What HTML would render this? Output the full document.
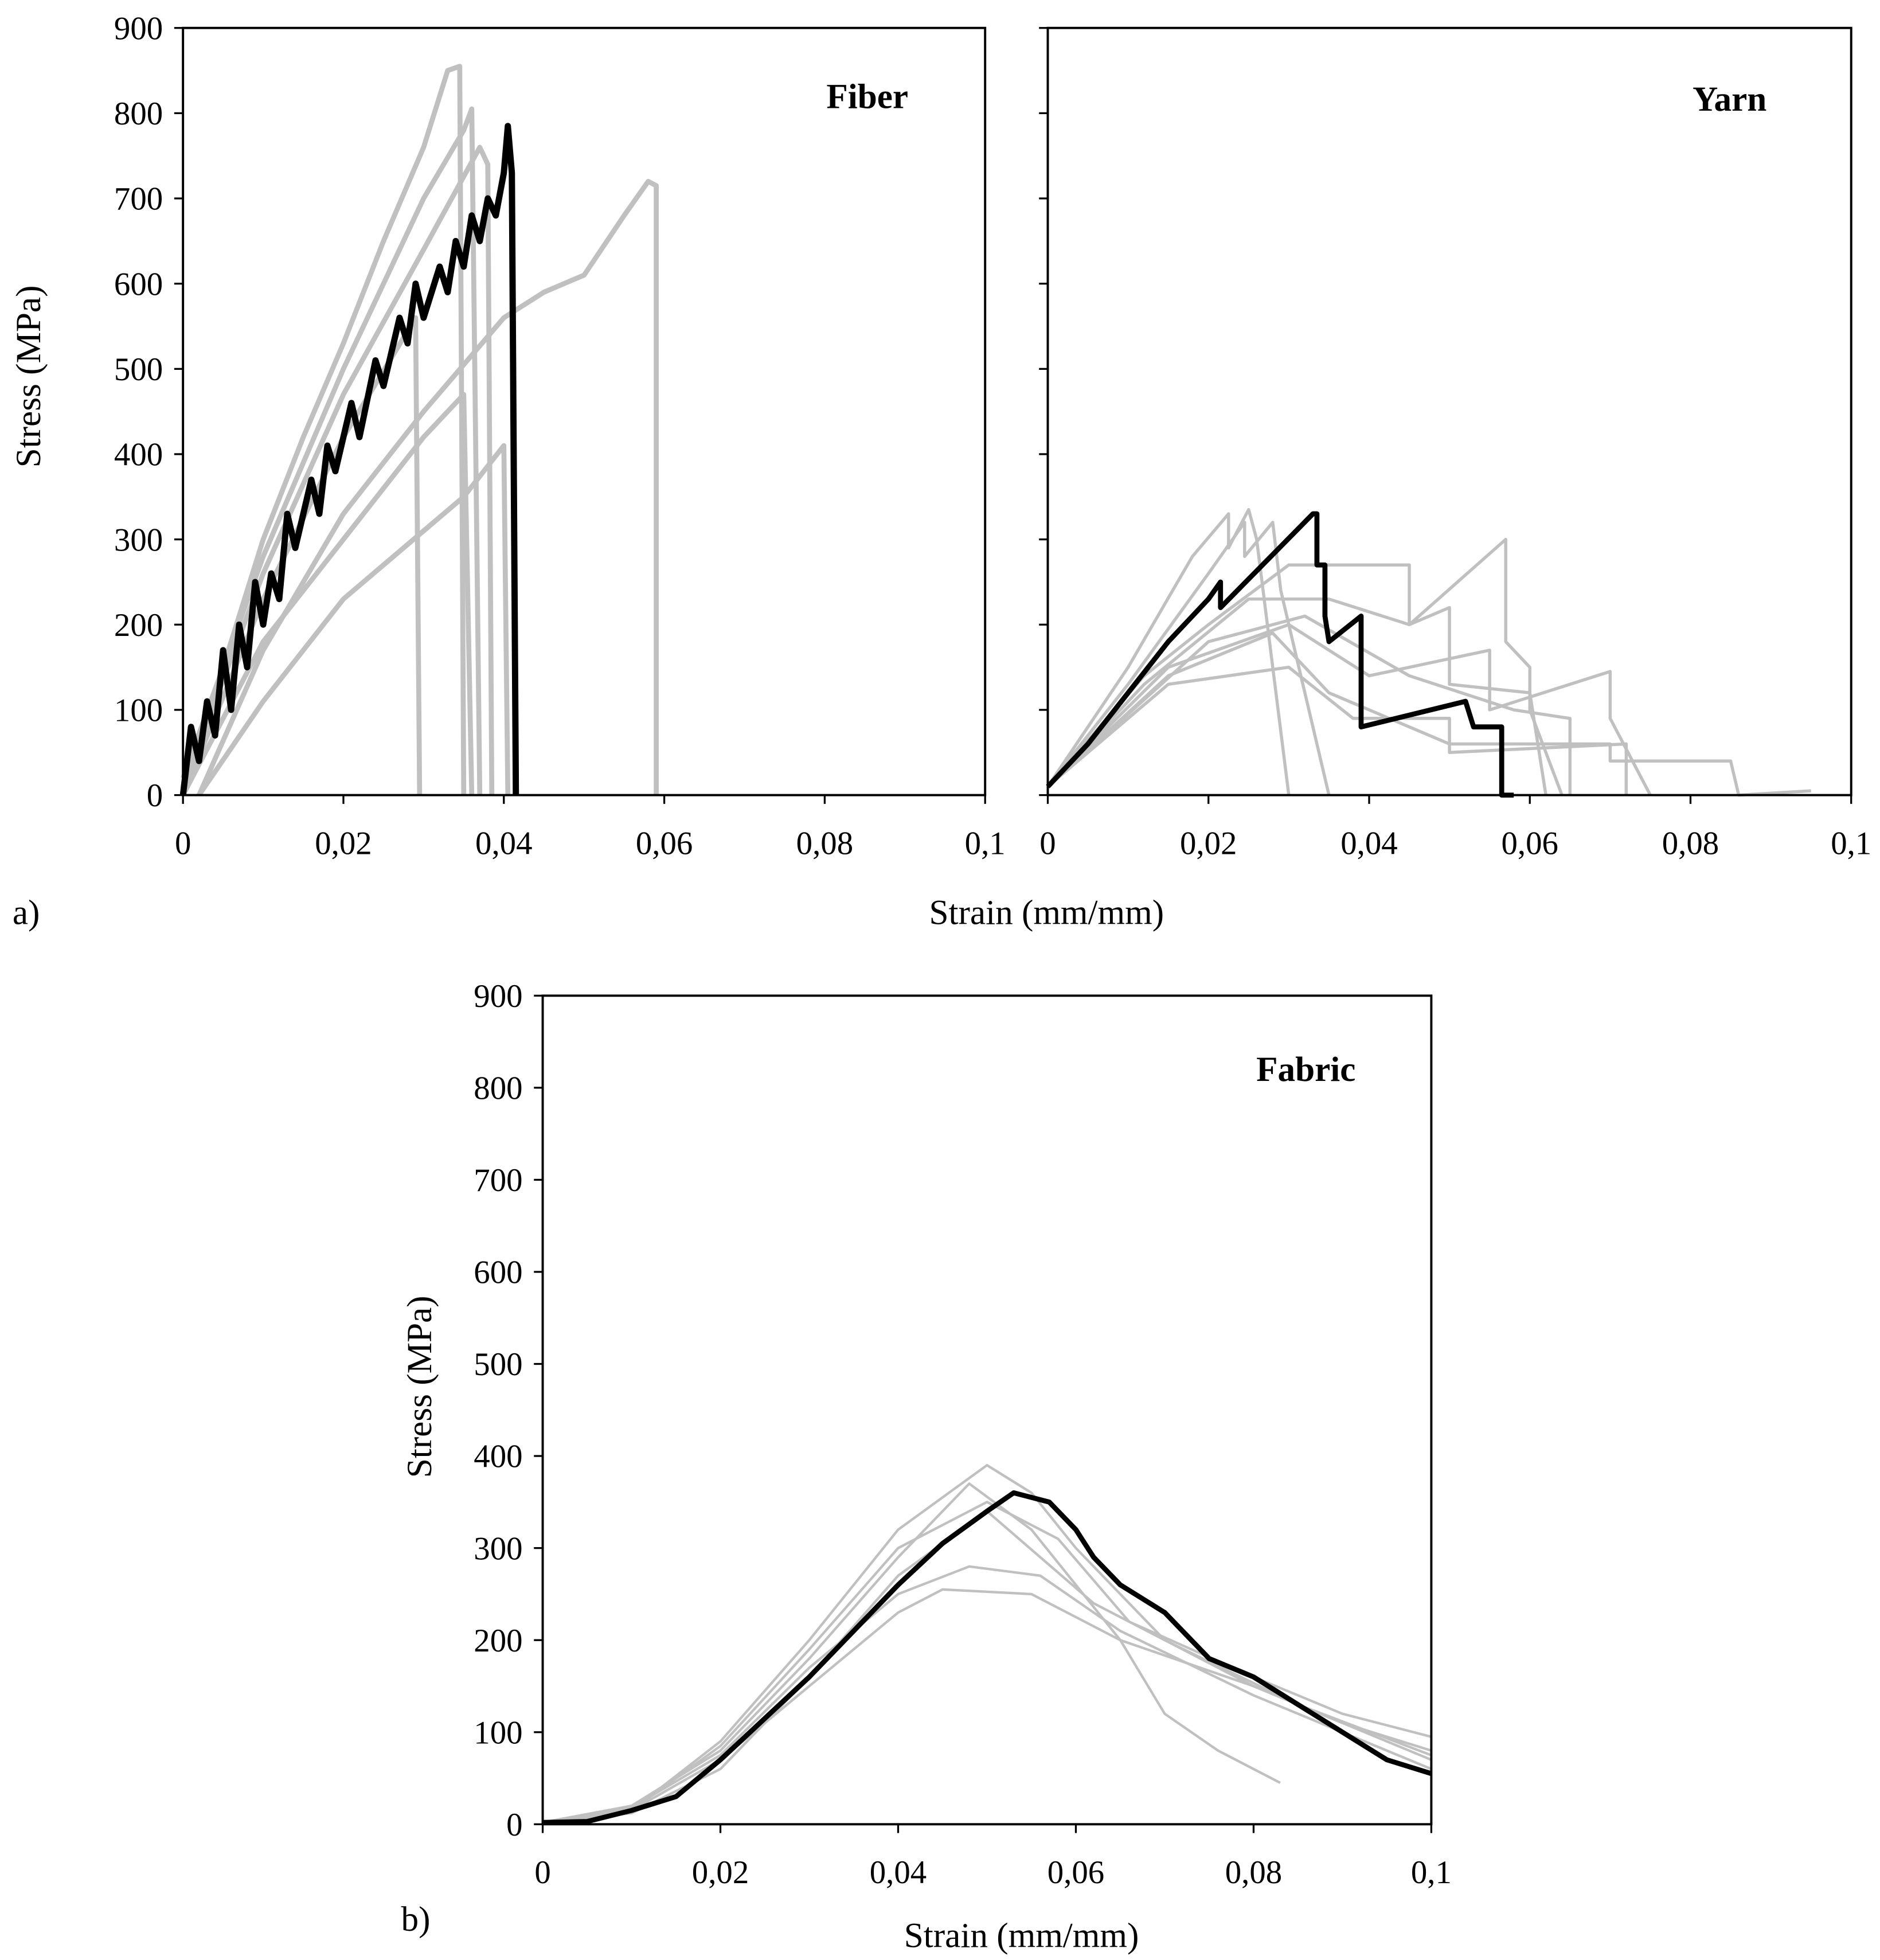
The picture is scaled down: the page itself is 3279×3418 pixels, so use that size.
<!DOCTYPE html>
<html><head><meta charset="utf-8"><style>
html,body{margin:0;padding:0;background:#fff;}
svg{display:block;font-family:"Liberation Serif",serif;}
</style></head><body>
<svg id="fig" width="3279" height="3418" viewBox="0 0 1500 1563" xmlns="http://www.w3.org/2000/svg">
<g id="root"></g>
</svg>
<script>
// ---- data ----
const fiberGray = [
 [[0,0],[0.004,120],[0.01,300],[0.015,420],[0.02,530],[0.025,650],[0.03,760],[0.033,850],[0.0345,855],[0.035,0]],
 [[0,20],[0.005,150],[0.01,280],[0.02,500],[0.025,600],[0.03,700],[0.035,780],[0.036,805],[0.037,0]],
 [[0,10],[0.01,260],[0.02,470],[0.03,640],[0.037,760],[0.038,740],[0.0385,0]],
 [[0.002,0],[0.01,170],[0.02,330],[0.03,450],[0.04,560],[0.045,590],[0.05,610],[0.055,680],[0.058,720],[0.059,715],[0.059,0]],
 [[0.002,0],[0.01,110],[0.02,230],[0.03,310],[0.035,350],[0.04,410],[0.0405,0]],
 [[0,0],[0.01,180],[0.02,300],[0.03,420],[0.035,470],[0.036,0]],
 [[0,0],[0.01,230],[0.02,420],[0.029,560],[0.0295,0]]
];
const fiberBlack = [[0,0],[0.001,80],[0.002,40],[0.003,110],[0.004,70],[0.005,170],[0.006,100],[0.007,200],[0.008,150],[0.009,250],[0.01,200],[0.011,260],[0.012,230],[0.013,330],[0.014,290],[0.016,370],[0.017,330],[0.018,410],[0.019,380],[0.021,460],[0.022,420],[0.024,510],[0.025,480],[0.027,560],[0.028,530],[0.029,600],[0.03,560],[0.032,620],[0.033,590],[0.034,650],[0.035,620],[0.036,680],[0.037,650],[0.038,700],[0.039,680],[0.04,730],[0.0405,785],[0.041,730],[0.0415,0]];
const yarnGray = [
 [[0,10],[0.01,150],[0.018,280],[0.0225,330],[0.0225,290],[0.025,335],[0.026,300],[0.03,0]],
 [[0,10],[0.01,130],[0.02,260],[0.0245,320],[0.0245,280],[0.028,320],[0.029,240],[0.035,0]],
 [[0,10],[0.012,140],[0.02,200],[0.03,270],[0.045,270],[0.045,200],[0.05,220],[0.05,130],[0.06,120],[0.062,0]],
 [[0,10],[0.012,130],[0.025,230],[0.035,230],[0.045,200],[0.057,300],[0.057,180],[0.06,150],[0.06,100],[0.064,0]],
 [[0,10],[0.015,150],[0.03,200],[0.04,140],[0.055,170],[0.055,100],[0.07,145],[0.07,90],[0.075,0]],
 [[0,10],[0.015,140],[0.028,190],[0.035,120],[0.05,60],[0.07,60],[0.07,40],[0.085,40],[0.086,0],[0.095,5]],
 [[0,10],[0.015,130],[0.03,150],[0.038,90],[0.05,90],[0.05,50],[0.072,60],[0.072,0]],
 [[0,10],[0.02,180],[0.032,210],[0.045,140],[0.058,100],[0.065,90],[0.065,0]]
];
const yarnBlack = [[0,10],[0.005,60],[0.01,120],[0.015,180],[0.02,230],[0.0215,250],[0.0215,220],[0.033,330],[0.0335,330],[0.0335,270],[0.0345,270],[0.0345,210],[0.035,180],[0.039,210],[0.039,80],[0.052,110],[0.053,80],[0.0565,80],[0.0565,0],[0.058,0]];
const fabricGray = [
 [[0,2],[0.01,15],[0.02,90],[0.03,200],[0.04,320],[0.05,390],[0.055,360],[0.06,300],[0.07,200],[0.08,150],[0.09,110],[0.1,70]],
 [[0,2],[0.01,20],[0.02,80],[0.03,180],[0.04,290],[0.048,370],[0.055,320],[0.065,200],[0.07,120],[0.076,80],[0.083,45]],
 [[0,2],[0.01,15],[0.02,70],[0.03,150],[0.04,230],[0.045,255],[0.055,250],[0.065,200],[0.08,150],[0.09,110],[0.1,80]],
 [[0,2],[0.01,18],[0.02,75],[0.03,170],[0.04,250],[0.048,280],[0.056,270],[0.065,210],[0.08,140],[0.09,100],[0.1,60]],
 [[0,2],[0.01,15],[0.02,85],[0.03,190],[0.04,300],[0.05,350],[0.058,310],[0.066,220],[0.08,160],[0.09,120],[0.1,95]],
 [[0,2],[0.01,12],[0.02,60],[0.03,160],[0.04,270],[0.05,340],[0.056,290],[0.062,240],[0.07,200],[0.085,130],[0.1,75]]
];
const fabricBlack = [[0,2],[0.005,3],[0.01,15],[0.015,30],[0.02,70],[0.025,115],[0.03,160],[0.035,210],[0.04,260],[0.045,305],[0.05,340],[0.053,360],[0.057,350],[0.06,320],[0.062,290],[0.065,260],[0.07,230],[0.075,180],[0.08,160],[0.085,130],[0.09,100],[0.095,70],[0.1,55]];
const yTicks = [0,100,200,300,400,500,600,700,800,900];
const xTicks = [0,0.02,0.04,0.06,0.08,0.1];
const xTickLabels = ["0","0,02","0,04","0,06","0,08","0,1"];

const NS="http://www.w3.org/2000/svg";
const root=document.getElementById('root');
function mk(tag,attrs,parent){const e=document.createElementNS(NS,tag);for(const k in attrs)e.setAttribute(k,attrs[k]);(parent||root).appendChild(e);return e;}
function txt(s,attrs,parent){const e=mk('text',attrs,parent);e.textContent=s;return e;}

function panel(name,L,R,T,B,gray,black,grayW,blackW,title,titleX,titleY,yLabels){
  const g=mk('g',{});
  
  
  const sx=v=>L+(v/0.1)*(R-L), sy=v=>B-(v/900)*(B-T);
  gray.forEach((s,i)=>{
    const p=mk('polyline',{points:s.map(d=>sx(d[0])+','+sy(d[1])).join(' '),fill:'none',stroke:'#c0c0c0','stroke-width':grayW,'stroke-linejoin':'round'},g);
    
    
  });
  const pb=mk('polyline',{points:black.map(d=>sx(d[0])+','+sy(d[1])).join(' '),fill:'none',stroke:'#000','stroke-width':blackW,'stroke-linejoin':'round'},g);
  
  
  const fr=mk('rect',{x:L,y:T,width:R-L,height:B-T,fill:'none',stroke:'#000','stroke-width':1.8},g);
  
  
  yTicks.forEach(v=>{
    mk('line',{x1:L-7,x2:L,y1:sy(v),y2:sy(v),stroke:'#000','stroke-width':1.5},g);
    if(yLabels){const t=txt(String(v),{x:L-16,y:sy(v)+9,'text-anchor':'end','font-size':26},g);
      
      }
  });
  xTicks.forEach((v,i)=>{
    mk('line',{x1:sx(v),x2:sx(v),y1:B,y2:B+7,stroke:'#000','stroke-width':1.5},g);
    const t=txt(xTickLabels[i],{x:sx(v),y:B+47,'text-anchor':'middle','font-size':26},g);
    
    
  });
  const tt=txt(title,{x:titleX,y:titleY,'text-anchor':'middle','font-size':28,'font-weight':'bold'},g);
  
  
}
panel('fiber',146,786,22,634,fiberGray,fiberBlack,4,5,'Fiber',692,86,true);
panel('yarn',836,1477,22,634,yarnGray,yarnBlack,2.5,4,'Yarn',1380,88,false);
panel('fabric',433,1142,794,1455,fabricGray,fabricBlack,2,4,'Fabric',1042,862,true);

let t;
t=txt('Stress (MPa)',{x:0,y:0,transform:'translate(32,300) rotate(-90)','text-anchor':'middle','font-size':28});


t=txt('Strain (mm/mm)',{x:835,y:737,'text-anchor':'middle','font-size':28});


t=txt('a)',{x:10,y:737,'font-size':28});


t=txt('Stress (MPa)',{x:0,y:0,transform:'translate(344,1106) rotate(-90)','text-anchor':'middle','font-size':28});


t=txt('Strain (mm/mm)',{x:815,y:1553,'text-anchor':'middle','font-size':28});


t=txt('b)',{x:320,y:1540,'font-size':28});


</script>
</body></html>
